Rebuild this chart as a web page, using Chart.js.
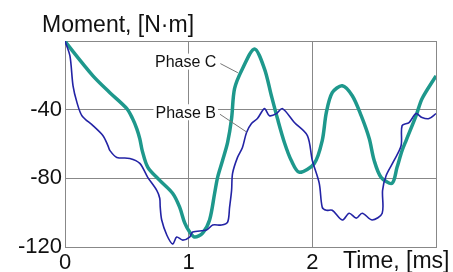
<!DOCTYPE html>
<html>
<head>
<meta charset="utf-8">
<script src="https://cdn.jsdelivr.net/npm/chart.js@4/dist/chart.umd.min.js"></script>
<style>
  body { margin: 0; background: #fff; }
  #wrap { width: 453px; height: 272px; position: relative; }
</style>
</head>
<body>
<div id="wrap"><canvas id="moment-chart"></canvas></div>
<script>
// Phase B (thin blue)
const timeB = [0, 0.04, 0.065, 0.097, 0.137, 0.226, 0.306, 0.347, 0.363, 0.419, 0.524, 0.605, 0.669, 0.742, 0.766, 0.77,
  0.782, 0.823, 0.871, 0.903, 0.952, 1.008, 1.032, 1.145, 1.194, 1.266, 1.315, 1.331, 1.347, 1.355, 1.395, 1.435,
  1.468, 1.508, 1.556, 1.613, 1.653, 1.71, 1.758, 1.855, 1.96, 2.0, 2.056, 2.08, 2.113, 2.161, 2.242, 2.298, 2.355,
  2.403, 2.484, 2.565, 2.568, 2.597, 2.661, 2.718, 2.726, 2.782, 2.839, 2.887, 2.944, 3.0];
const momentB = [0, -8.7, -26.1, -35.9, -43.5, -49.3, -55.1, -60.9, -63.8, -67.8, -68.4, -71.3, -79.4, -87, -91.6, -96.8,
  -104.3, -113, -118.3, -114.2, -116, -114.2, -111.3, -110.1, -107.2, -107.2, -105.5, -96.8, -87, -77.1, -67.8, -62,
  -53.3, -48.1, -45.2, -39.4, -43.5, -42.3, -39.4, -47.5, -55.1, -69.6, -82.9, -96.8, -98.6, -98.6, -104.3, -100.3, -103.2,
  -100.3, -104.3, -100.3, -87, -78.3, -69.6, -60.9, -49.3, -47.5, -42.3, -44.6, -45.2, -42.3];

// Phase C (thick teal)
const timeC = [0, 0.016, 0.226, 0.363, 0.5, 0.545, 0.58, 0.605, 0.625, 0.67, 0.766, 0.87, 0.927, 0.968, 1.008, 1.048, 1.113,
  1.169, 1.21, 1.234, 1.274, 1.315, 1.347, 1.371, 1.435, 1.532, 1.613, 1.669, 1.718, 1.774, 1.83, 1.895, 2.016,
  2.08, 2.113, 2.161, 2.242, 2.323, 2.395, 2.46, 2.5, 2.556, 2.645, 2.685, 2.726, 2.758, 2.839, 2.887, 3.0];
const momentC = [0, -1.7, -20.3, -30.1, -39.4, -45, -51, -57, -64, -73.6, -81.2, -88.7, -96.8, -106, -111.3, -114.2, -111.9,
  -104.3, -88.7, -79.4, -69.6, -59.1, -45.2, -27.8, -16.2, -4.6, -16.2, -31.9, -45.2, -59.1, -69.6, -76.5, -71.3,
  -58, -41.7, -30.1, -26.1, -31.9, -43.5, -56.8, -69.6, -79.4, -82.9, -73.6, -63.8, -58, -43.5, -33.6, -20.3];

const xTicks = [0, 1, 2];
const yTicks = [-40, -80, -120];
const axisTitleY = 'Moment, [N·m]';
const axisTitleX = 'Time, [ms]';
const phaseLabels = ['Phase C', 'Phase B'];

const toPoints = (xs, ys) => xs.map((x, i) => ({ x: x, y: ys[i] }));

const labelsPlugin = {
  id: 'labels',
  afterDatasetsDraw(chart) {
    const ctx = chart.ctx;
    const xs = chart.scales.x, ys = chart.scales.y;
    ctx.save();
    ctx.fillStyle = '#111';
    ctx.font = '23px "Liberation Sans", Arial, sans-serif';
    ctx.textBaseline = 'alphabetic';
    ctx.textAlign = 'left';
    ctx.fillText(axisTitleY, 42, 32);
    ctx.fillText(axisTitleX, 343, 268);

    // phase annotations with leader lines
    ctx.font = '16px "Liberation Sans", Arial, sans-serif';
    ctx.textAlign = 'center';
    ctx.textBaseline = 'middle';
    const notes = [
      { text: phaseLabels[0], x: 0.976, y: -12, lx: 1.398, ly: -18.5 },
      { text: phaseLabels[1], x: 0.976, y: -41.5, lx: 1.468, ly: -53 }
    ];
    notes.forEach(n => {
      const px = xs.getPixelForValue(n.x), py = ys.getPixelForValue(n.y);
      const w = ctx.measureText(n.text).width;
      ctx.fillStyle = '#fff';
      ctx.fillRect(px - w / 2 - 2, py - 8, w + 4, 16);
      ctx.fillStyle = '#111';
      ctx.fillText(n.text, px, py + 1);
      ctx.strokeStyle = '#777';
      ctx.lineWidth = 1;
      ctx.beginPath();
      ctx.moveTo(px + w / 2 + 4, py + 2);
      ctx.lineTo(xs.getPixelForValue(n.lx), ys.getPixelForValue(n.ly));
      ctx.stroke();
    });
    ctx.restore();
  }
};

const ctx = document.getElementById('moment-chart').getContext('2d');
const momentChart = new Chart(ctx, {
  type: 'line',
  data: {
    datasets: [{
      label: 'Phase B',
      data: toPoints(timeB, momentB),
      borderColor: 'rgb(35, 35, 165)',
      borderWidth: 1.6,
      pointRadius: 0,
      tension: 0.3
    }, {
      label: 'Phase C',
      data: toPoints(timeC, momentC),
      borderColor: 'rgb(30, 152, 140)',
      borderWidth: 3.5,
      pointRadius: 0,
      tension: 0.3
    }]
  },
  options: {
    responsive: true,
    maintainAspectRatio: false,
    animation: false,
    layout: { padding: { top: 41, right: 17, left: 0, bottom: 0 } },
    scales: {
      x: {
        type: 'linear',
        min: 0,
        max: 3,
        afterFit: (s) => { s.height = 25; },
        afterBuildTicks: (s) => { s.ticks = [0, 1, 2, 3].map(v => ({ value: v })); },
        grid: { color: '#888', lineWidth: 1, drawTicks: false },
        border: { color: '#888' },
        ticks: {
          padding: 3,
          color: '#111',
          font: { family: '"Liberation Sans", Arial, sans-serif', size: 22 },
          callback: (v) => xTicks.includes(v) ? String(v) : ''
        }
      },
      y: {
        min: -120,
        max: 0,
        afterFit: (s) => { s.width = 65; },
        afterBuildTicks: (s) => { s.ticks = [-120, -80, -40, 0].map(v => ({ value: v })); },
        grid: { color: '#888', lineWidth: 1, drawTicks: false },
        border: { color: '#888' },
        ticks: {
          padding: 3,
          color: '#111',
          font: { family: '"Liberation Sans", Arial, sans-serif', size: 22 },
          callback: (v) => yTicks.includes(v) ? String(v) : ''
        }
      }
    },
    plugins: {
      legend: { display: false },
      tooltip: { enabled: false }
    }
  },
  plugins: [labelsPlugin]
});
</script>
</body>
</html>
